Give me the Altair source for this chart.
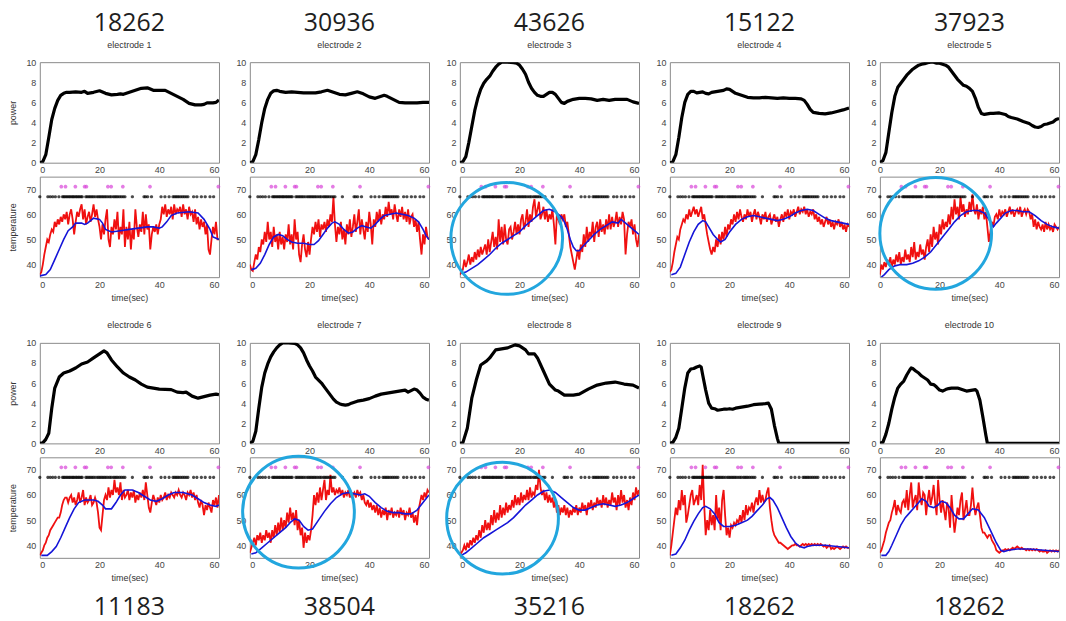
import altair as alt
import pandas as pd

# ---------------------------------------------------------------------------
# Values
# ---------------------------------------------------------------------------
TOP_COUNTS = ["18262", "30936", "43626", "15122", "37923"]
BOTTOM_COUNTS = ["11183", "38504", "35216", "18262", "18262"]

# Delivered power, (time s, power)
power_1 = [(0, 0), (1, 0.1), (2, 0.8), (3, 2.5), (4, 4.3), (5, 5.4), (6, 6.2), (7, 6.7), (8, 6.9), (9, 7.0),
           (10, 7.0), (12, 7.05), (14, 7.0), (15, 7.1), (16, 6.9), (18, 7.0), (20, 7.15), (22, 6.9), (24, 6.75),
           (26, 6.8), (27, 6.85), (28, 6.8), (30, 7.0), (32, 7.2), (34, 7.4), (36, 7.45), (38, 7.2), (40, 7.2),
           (42, 7.2), (44, 6.9), (46, 6.6), (48, 6.3), (50, 5.9), (52, 5.75), (54, 5.75), (55, 5.8), (56, 5.95),
           (58, 5.95), (59, 6.0), (60, 6.25)]
power_2 = [(0, 0), (1, 0.1), (2, 0.8), (3, 2.3), (4, 4.0), (5, 5.4), (6, 6.3), (7, 6.9), (8, 7.15), (9, 7.2),
           (10, 7.1), (12, 7.0), (14, 7.05), (16, 7.0), (18, 6.95), (20, 6.95), (22, 6.95), (24, 7.05), (26, 7.2),
           (28, 7.0), (30, 6.8), (32, 6.75), (34, 6.9), (36, 7.05), (38, 6.85), (40, 6.55), (42, 6.4), (44, 6.6),
           (45, 6.7), (46, 6.6), (48, 6.3), (50, 6.0), (52, 5.95), (56, 5.95), (58, 6.0), (60, 6.0)]
power_3 = [(0, 0), (1, 0.1), (2, 0.6), (3, 2.0), (4, 3.6), (5, 5.2), (6, 6.4), (7, 7.3), (8, 7.9), (9, 8.3),
           (10, 8.6), (11, 9.1), (12, 9.5), (13, 9.8), (14, 10.0), (16, 10.0), (18, 9.95), (19, 9.9), (20, 9.7),
           (21, 9.3), (22, 8.8), (23, 8.0), (24, 7.4), (25, 7.0), (26, 6.7), (27, 6.6), (28, 6.6), (29, 6.8),
           (30, 7.0), (31, 7.0), (32, 6.8), (33, 6.4), (34, 6.0), (35, 5.9), (36, 6.1), (38, 6.3), (40, 6.4),
           (42, 6.4), (44, 6.35), (46, 6.2), (48, 6.3), (50, 6.2), (52, 6.3), (54, 6.3), (56, 6.3), (58, 6.05),
           (60, 5.9)]
power_4 = [(0, 0), (1, 0.1), (2, 0.8), (3, 2.5), (4, 4.5), (5, 6.0), (6, 6.8), (7, 7.1), (8, 7.1), (9, 6.95),
           (10, 7.0), (11, 7.05), (12, 6.9), (13, 6.85), (14, 7.0), (16, 7.1), (18, 7.2), (19, 7.35), (20, 7.3),
           (21, 7.1), (22, 6.9), (24, 6.7), (26, 6.5), (28, 6.45), (30, 6.45), (32, 6.5), (34, 6.45), (36, 6.4),
           (38, 6.45), (40, 6.4), (42, 6.4), (44, 6.35), (45, 6.2), (46, 5.8), (47, 5.3), (48, 5.0), (50, 4.9),
           (52, 4.85), (54, 4.95), (56, 5.1), (58, 5.25), (60, 5.45)]
power_5 = [(0, 0), (1, 0.2), (2, 1.0), (3, 3.0), (4, 5.0), (5, 6.6), (6, 7.5), (7, 7.9), (8, 8.3), (9, 8.7),
           (10, 9.0), (11, 9.3), (12, 9.5), (13, 9.7), (14, 9.8), (15, 9.85), (16, 9.95), (17, 10.0), (18, 10.0),
           (19, 9.9), (20, 9.9), (21, 9.8), (22, 9.7), (23, 9.5), (24, 9.1), (25, 8.7), (26, 8.3), (27, 8.0),
           (28, 7.7), (29, 7.6), (30, 7.4), (31, 7.1), (32, 6.4), (33, 5.5), (34, 4.9), (35, 4.8), (36, 4.85),
           (37, 4.9), (38, 4.9), (40, 4.95), (42, 4.8), (43, 4.6), (44, 4.5), (46, 4.35), (48, 4.1), (50, 3.9),
           (51, 3.7), (52, 3.55), (53, 3.5), (54, 3.6), (55, 3.8), (56, 3.85), (58, 4.05), (59, 4.3), (60, 4.4)]
power_6 = [(0, 0), (1, 0.05), (2, 0.4), (3, 1.0), (4, 3.5), (5, 5.5), (6.5, 6.6), (8, 7.0), (10, 7.2), (12, 7.5),
           (14, 7.9), (16, 8.1), (18, 8.5), (20, 8.9), (21.5, 9.2), (22.5, 9.0), (24, 8.3), (26, 7.6), (28, 7.0),
           (30, 6.6), (32, 6.3), (34, 5.9), (36, 5.6), (38, 5.5), (40, 5.4), (44, 5.35), (46, 5.1), (48, 5.05),
           (49, 5.1), (51, 4.7), (53, 4.5), (55, 4.65), (57, 4.8), (59, 4.9), (60, 4.85)]
power_7 = [(0, 0), (1, 0.2), (2, 1.2), (3, 3.5), (4, 5.6), (5, 7.0), (6, 7.9), (7, 8.6), (8, 9.1), (9, 9.5),
           (10, 9.8), (11, 10.0), (13, 10.0), (15, 9.95), (16, 9.8), (17, 9.5), (18, 9.0), (19, 8.3), (20, 7.7),
           (21, 7.2), (22, 6.6), (23, 6.3), (24, 6.0), (25, 5.6), (26, 5.2), (27, 4.8), (28, 4.4), (29, 4.1),
           (30, 3.95), (31, 3.85), (32, 3.8), (33, 3.85), (34, 4.0), (36, 4.2), (38, 4.3), (40, 4.45), (42, 4.7),
           (44, 4.9), (46, 5.0), (48, 5.1), (50, 5.2), (52, 5.3), (53, 5.1), (54, 5.25), (55, 5.4), (56, 5.3),
           (57, 5.0), (58, 4.6), (59, 4.4), (60, 4.3)]
power_8 = [(0, 0), (1, 0.05), (2.5, 1.5), (4, 4.5), (5.5, 6.3), (7, 7.8), (9, 8.2), (10, 8.5), (12, 9.3),
           (14, 9.4), (16, 9.5), (18.5, 9.8), (20, 9.7), (22, 9.3), (23, 8.9), (25, 8.9), (26, 8.5), (28, 7.2),
           (30, 5.9), (32, 5.3), (33, 5.2), (35, 4.8), (38, 4.8), (40, 4.9), (43, 5.4), (46, 5.8), (49, 6.0),
           (52, 6.1), (55, 5.9), (58, 5.8), (60, 5.5)]
power_9 = [(0, 0), (1, 0.1), (2, 0.6), (3, 1.5), (4, 3.5), (5, 5.5), (6, 7.0), (7, 7.4), (8, 7.45), (9, 7.6),
           (10, 7.7), (10.5, 7.6), (11, 6.8), (12, 5.3), (13, 4.0), (14, 3.5), (15, 3.45), (16, 3.3), (17, 3.35),
           (18, 3.4), (19, 3.4), (20, 3.45), (21, 3.4), (22, 3.5), (24, 3.6), (26, 3.7), (28, 3.85), (30, 3.9),
           (32, 3.95), (33, 4.0), (34, 3.4), (35, 1.8), (36, 0.5), (36.5, 0), (60, 0)]
power_10 = [(0, 0), (1, 0.1), (2, 0.9), (3, 2.0), (4, 3.4), (5, 4.6), (6, 5.5), (7, 5.9), (8, 6.2), (9, 6.8),
            (10, 7.3), (10.5, 7.5), (11, 7.45), (12, 7.2), (13, 7.0), (14, 6.7), (15, 6.5), (16, 6.3), (17, 5.9),
            (18, 5.85), (19, 5.6), (20, 5.3), (21, 5.2), (22, 5.35), (23, 5.45), (24, 5.5), (26, 5.5), (27, 5.4),
            (28, 5.3), (29, 5.2), (30, 5.25), (31, 5.3), (32, 5.35), (32.5, 5.2), (33.5, 4.3), (34.5, 2.6),
            (35.5, 0.8), (36, 0), (60, 0)]

# Smoothed temperature, (time s, temperature)
smooth_1 = [(0, 35.5), (2, 36), (3.5, 38), (5, 42), (6.5, 46), (8, 50), (9.5, 53.5), (11, 55), (12, 56.5),
            (14, 56.5), (15, 56), (16, 56.5), (17, 57.5), (18, 58.5), (20, 58), (21, 56.5), (22, 54), (24, 53),
            (27, 53.5), (30, 54), (33, 54.5), (36, 55), (38, 55), (40, 54.5), (41, 55), (42.5, 57), (44, 59.5),
            (46, 60.5), (50, 61), (53, 60.5), (55, 58), (57, 54), (58, 51), (60, 50)]
smooth_2 = [(0.5, 38), (2, 38.5), (3.5, 40.5), (5, 44), (6.5, 48), (8, 51), (9.5, 52), (11, 51.5), (12.5, 50),
            (14, 49), (16, 48.5), (18, 48.5), (20, 48), (21.5, 48), (23, 49.5), (24.5, 52), (26, 54.5),
            (27.5, 56.5), (28.5, 57), (30, 56), (31.5, 54), (33, 52.5), (34.5, 53), (36, 54.5), (37.5, 55.5),
            (39, 55), (40.5, 54.5), (42, 56), (43.5, 58), (45, 59.5), (47, 60), (49, 60.5), (51, 60), (53, 59.5),
            (55, 58.5), (56.5, 57), (58, 54), (59, 51.5), (60, 50)]
smooth_3 = [(0.5, 36.5), (2, 37), (4, 38.5), (6, 40), (8, 42), (10, 44), (12, 46.5), (14, 48.5), (16, 50),
            (18, 51.5), (20, 53), (22, 55.5), (24, 57.5), (26, 59.5), (28, 61.5), (30, 62), (32, 61), (34, 59),
            (35, 57), (36, 54), (37, 50), (38, 47), (39, 45.5), (40, 45.5), (41, 47), (43, 49.5), (45, 52),
            (47, 54), (49, 55.5), (51, 57), (53, 56.5), (54, 58), (55, 57), (57, 55), (59, 53), (60, 52)]
smooth_4 = [(0.5, 36), (2, 36.5), (3.5, 39), (5, 44), (6.5, 49), (8, 53), (9.5, 56), (11, 57.5), (12, 57),
            (13, 55), (14.5, 52), (16, 50), (17, 49), (18.5, 50), (20, 53), (22, 56), (24, 58), (26, 59),
            (28, 59.5), (30, 59), (32, 58.5), (34, 58), (36, 57.5), (38, 58), (40, 59), (42, 60.5), (44, 61.5),
            (46, 62), (48, 61.5), (50, 60), (52, 58.5), (54, 57.5), (56, 57), (58, 56.5), (60, 56)]
smooth_5 = [(0.5, 35), (1.5, 36), (3, 38), (5, 39.5), (7, 40), (9, 40), (11, 40.5), (13, 41.5), (15, 43),
            (17, 45), (19, 48), (21, 51), (23, 54), (25, 57), (27, 59.5), (29, 61), (31, 61.5), (33, 61.5),
            (35, 60.5), (36.5, 58), (38, 55), (39, 56.5), (40.5, 58.5), (42, 60.5), (44, 61.5), (46, 61.5),
            (48, 61), (50, 61), (52, 59.5), (54, 57.5), (56, 56), (58, 55), (60, 54.5)]
smooth_6 = [(0.5, 36), (2.5, 36), (4, 37.5), (5.5, 39.5), (7, 43), (8.5, 47), (10, 51), (11.5, 54.5), (13, 57),
            (15, 58), (18, 58), (19.5, 57.5), (21, 56), (22, 54.5), (24, 54.5), (25.5, 57), (27, 60), (28.5, 62),
            (31, 62), (33, 61), (35, 59.5), (37, 58), (39, 57.5), (41, 58.5), (43, 60), (45, 61), (48, 61),
            (51, 60), (53, 58.5), (55, 57), (57, 56), (59, 55.5), (60, 56)]
smooth_7 = [(0.5, 36.5), (2, 37), (4, 39), (6, 41), (8, 43), (10, 45), (12, 47), (13.5, 49), (15, 50.5),
            (16.5, 50), (18, 47.5), (19.5, 46), (21, 46.5), (23, 50), (25, 53.5), (27, 56.5), (29, 59),
            (31, 60.5), (33, 61), (35, 60.5), (37, 60), (38.5, 60.5), (40, 59.5), (42, 57), (44, 55), (46, 53.5),
            (48, 53), (50, 53), (52, 52.5), (54, 52.5), (56, 54), (58, 57), (60, 60)]
smooth_8 = [(0.5, 36), (2, 37), (4, 39), (6, 41), (8, 43), (10, 44.5), (12, 46), (14, 47.5), (16, 49), (18, 51),
            (20, 53.5), (22, 56), (24, 58), (26, 60), (28, 61.5), (30, 62), (32, 61), (34, 59), (36, 57), (38, 55),
            (40, 54), (42, 54), (44, 55), (46, 56), (48, 56.5), (50, 56), (52, 55.5), (54, 56), (56, 57),
            (58, 58.5), (60, 60)]
smooth_9 = [(0.5, 36), (2, 36.5), (3.5, 39), (5, 42), (6.5, 46), (8, 49.5), (9.5, 52.5), (11, 55), (12, 55.5),
            (13.5, 54.5), (15, 52.5), (16.5, 49), (18, 47.5), (20, 47.5), (22, 48), (24, 49), (26, 50),
            (27.5, 51.5), (29, 53.5), (31, 56), (32.5, 58.5), (33.5, 59), (34.5, 58), (36, 55), (37.5, 51),
            (39, 47), (40.5, 43.5), (42, 41), (43.5, 39.5), (45, 39), (46, 39.5), (48, 40), (52, 40), (56, 39.5),
            (60, 39)]
smooth_10 = [(0.5, 36), (2, 36), (3, 37.5), (4, 40), (5.5, 44), (7, 48), (8.5, 51), (10, 53), (11.5, 55),
             (13, 57), (14, 58.5), (15.5, 57.5), (16.5, 55.5), (18, 55), (19.5, 56), (20.5, 57.5), (22, 57),
             (23.5, 55), (25, 52), (26.5, 50.5), (28, 50.5), (29.5, 52.5), (31, 54.5), (33, 54), (35, 51),
             (37, 46), (39, 41), (40.5, 38), (41.5, 37.5), (43, 38), (46, 38.5), (50, 38.5), (55, 38), (60, 37.5)]

# Raw temperature, one reading every SAMPLE_STEP seconds from t = 0
SAMPLE_STEP = 0.5
temp_1 = [36, 37, 40, 44, 47, 50, 49, 52, 54, 53,
          57, 55, 58, 56, 59, 57, 60, 58, 61, 56,
          60, 62, 58, 52, 57, 61, 59, 62, 64, 58,
          62, 56, 59, 61, 57, 60, 64, 59, 62, 58,
          55, 50, 56, 52, 58, 62, 50, 47, 55, 52,
          58, 54, 61, 50, 55, 52, 62, 47, 55, 50,
          57, 46, 54, 50, 62, 55, 51, 56, 53, 61,
          52, 60, 54, 56, 46, 52, 55, 53, 56, 52,
          56, 58, 63, 60, 64, 59, 62, 60, 63, 58,
          64, 60, 62, 61, 63, 59, 64, 60, 62, 58,
          63, 60, 61, 57, 62, 56, 59, 54, 58, 55,
          57, 52, 56, 46, 44, 50, 55, 52, 57, 50,
          50]
temp_2 = [40, 38, 37.5, 41, 44, 42, 47, 45, 50, 48,
          53, 49, 57, 50, 53, 47, 55, 49, 52, 46,
          53, 48, 51, 46, 52, 49, 56, 48, 52, 46,
          58, 50, 53, 44, 41, 48, 52, 46, 43, 49,
          44, 50, 55, 52, 57, 53, 58, 51, 56, 54,
          57, 53, 58, 55, 60, 57, 67, 56, 49, 55,
          52, 57, 50, 54, 48, 56, 52, 58, 51, 55,
          60, 53, 57, 62, 52, 58, 54, 50, 57, 53,
          61, 56, 48, 58, 55, 61, 57, 62, 56, 60,
          58, 63, 59, 65, 60, 62, 58, 64, 60, 57,
          62, 59, 63, 58, 61, 57, 62, 56, 59, 60,
          55, 58, 53, 57, 50, 44, 52, 48, 55, 51,
          50]
temp_3 = [36, 37, 38, 42, 39, 41, 44, 40, 43, 41,
          45, 42, 46, 43, 47, 44, 46, 48, 44, 50,
          45, 49, 53, 47, 51, 46, 58, 49, 55, 48,
          56, 50, 48, 54, 55, 50, 53, 57, 52, 56,
          52, 58, 60, 54, 57, 62, 55, 60, 57, 63,
          66, 59, 62, 65, 58, 60, 63, 58, 62, 57,
          60, 58, 62, 56, 48, 60, 58, 56, 60, 58,
          60, 55, 57, 52, 47, 44, 41, 38, 42, 46,
          42, 48, 45, 52, 47, 55, 49, 53, 51, 57,
          49, 55, 57, 51, 58, 53, 56, 52, 58, 54,
          60, 54, 59, 55, 57, 61, 55, 59, 56, 61,
          58, 44, 52, 57, 55, 58, 52, 56, 50, 47,
          52]
temp_4 = [37, 38, 41, 45, 48, 51, 50, 54, 56, 58,
          57, 60, 58, 62, 59, 61, 63, 60, 62, 59,
          61, 63, 58, 60, 56, 52, 49, 46, 44, 47,
          45, 50, 47, 52, 48, 53, 50, 55, 51, 56,
          54, 58, 56, 60, 57, 61, 58, 62, 59, 57,
          60, 58, 62, 59, 61, 57, 60, 62, 58, 61,
          59, 56, 60, 58, 61, 57, 59, 60, 56, 58,
          60, 57, 59, 55, 58, 60, 57, 61, 59, 62,
          58, 61, 60, 62, 59, 61, 63, 60, 62, 61,
          63, 60, 62, 59, 61, 60, 62, 58, 60, 57,
          59, 56, 58, 55, 57, 59, 56, 58, 55, 57,
          54, 57, 56, 58, 55, 57, 54, 56, 53, 56,
          55]
temp_5 = [36, 40, 38, 41, 39, 42, 40, 43, 39, 42,
          40, 44, 41, 45, 40, 43, 41, 46, 42, 44,
          41, 47, 43, 49, 42, 45, 43, 48, 44, 46,
          42, 47, 50, 45, 52, 47, 55, 50, 53, 48,
          56, 52, 58, 54, 57, 55, 60, 56, 63, 58,
          66, 60, 63, 58, 67, 61, 64, 59, 62, 60,
          65, 61, 68, 62, 60, 64, 58, 62, 60, 63,
          58, 61, 55, 49, 53, 57, 55, 59, 60, 58,
          62, 59, 61, 60, 62, 59, 61, 63, 60, 62,
          59, 61, 62, 60, 63, 59, 61, 62, 60, 62,
          61, 58, 60, 55, 58, 54, 57, 55, 54, 56,
          53, 57, 54, 56, 54, 55, 53, 56, 55, 54,
          55]
temp_6 = [36, 37, 38, 40, 41, 43, 44, 46, 47, 48,
          49, 50, 51, 51, 53, 56, 58, 59, 59, 57,
          59, 60, 57, 59, 56, 58, 61, 57, 59, 62,
          56, 59, 57, 58, 60, 56, 57, 59, 57, 53,
          47, 46, 52, 58, 60, 58, 63, 59, 62, 60,
          66, 61, 63, 60, 65, 58, 62, 59, 60, 62,
          58, 61, 59, 62, 57, 60, 58, 61, 59, 62,
          58, 65, 60, 55, 53, 57, 60, 58, 56, 59,
          57, 60, 58, 59, 61, 58, 60, 59, 61, 60,
          59, 61, 60, 62, 60, 59, 61, 60, 58, 61,
          60, 62, 59, 61, 58, 60, 57, 55, 58, 56,
          52, 56, 54, 57, 55, 53, 58, 56, 59, 55,
          60]
temp_7 = [37, 39, 41, 43, 40, 44, 42, 45, 41, 44,
          42, 46, 43, 45, 41, 46, 43, 48, 44, 49,
          45, 51, 46, 50, 47, 53, 49, 55, 50, 53,
          48, 54, 46, 50, 44, 47, 39, 45, 41, 44,
          42, 46, 52, 60, 56, 61, 57, 63, 58, 62,
          66, 58, 62, 60, 68, 61, 63, 60, 62, 61,
          63, 60, 62, 59, 61, 60, 62, 59, 61, 60,
          61, 59, 62, 60, 61, 58, 60, 57, 56, 58,
          55, 57, 54, 56, 53, 56, 52, 55, 51, 54,
          52, 55, 50, 54, 52, 55, 51, 53, 52, 54,
          51, 55, 52, 54, 50, 53, 52, 55, 51, 53,
          49, 52, 48, 54, 57, 60, 58, 61, 59, 62,
          61]
temp_8 = [36, 37, 38, 40, 38, 41, 39, 42, 40, 43,
          41, 44, 42, 46, 43, 48, 45, 50, 46, 49,
          46, 52, 48, 54, 49, 53, 50, 56, 51, 55,
          52, 57, 53, 56, 54, 58, 55, 60, 56, 59,
          56, 61, 57, 60, 58, 62, 58, 63, 59, 61,
          60, 64, 62, 70, 63, 60, 62, 58, 61, 57,
          60, 57, 59, 55, 58, 53, 56, 52, 55, 53,
          56, 52, 55, 51, 54, 52, 55, 53, 56, 52,
          55, 53, 57, 54, 56, 52, 57, 55, 58, 54,
          57, 55, 59, 56, 58, 55, 60, 56, 59, 55,
          58, 56, 61, 57, 59, 54, 60, 56, 62, 57,
          60, 55, 58, 54, 59, 56, 61, 58, 63, 60,
          62]
temp_9 = [36, 40, 45, 50, 55, 52, 58, 54, 62, 56,
          60, 49, 52, 56, 60, 62, 56, 58, 60, 56,
          64, 58, 72, 56, 44, 50, 46, 54, 48, 52,
          46, 60, 50, 55, 46, 58, 62, 52, 44, 47,
          43, 48, 47, 49, 48, 50, 49, 52, 49, 54,
          50, 56, 52, 55, 54, 57, 53, 57, 59, 56,
          62, 57, 60, 57, 58, 61, 63, 55, 50, 46,
          44, 43, 42, 41, 41, 40.5, 40, 39.5, 39, 38.5,
          39, 39.5, 40, 40, 40.5, 40, 40, 39.5, 40, 40.5,
          40, 40.5, 40, 40.5, 40, 40.5, 40, 40.5, 40, 40.5,
          40, 40.5, 40, 39.5, 40, 39, 39.5, 40, 38.5, 39,
          38.5, 39, 39.5, 39, 38.5, 39, 39.5, 39, 39.5, 39,
          39]
temp_10 = [37, 38, 40, 42, 45, 47, 49, 50, 53, 55,
           58, 52, 56, 54, 53, 57, 58, 55, 62, 54,
           60, 65, 55, 58, 60, 54, 65, 59, 56, 61,
           60, 52, 58, 62, 56, 59, 64, 57, 52, 66,
           58, 53, 58, 54, 50, 57, 55, 47, 60, 52,
           45, 50, 55, 52, 58, 61, 50, 54, 58, 52,
           52, 56, 63, 56, 52, 55, 57, 52, 47, 45,
           45, 44, 43, 44, 44, 42, 41, 40, 38, 37.5,
           37, 37.5, 38, 38, 38.5, 38, 38.5, 38, 38.5, 39,
           38.5, 39, 39.5, 39, 38.5, 39, 38.5, 38.5, 38, 38.5,
           38, 38.5, 38, 38.5, 38, 38.5, 38, 37.5, 38, 37.5,
           37.5, 38, 37, 37.5, 38, 37.5, 38, 37.5, 38, 37.5,
           38]

# Event markers shared by every electrode
BLACK_EVENTS = [0.0, 2.7, 3.5, 4.3, 5.2, 6.4, 7.6, 8.0, 8.4, 8.9, 9.3, 9.8, 10.2, 10.7, 11.1, 11.5, 12.0, 12.4,
                12.9, 13.3, 13.8, 14.2, 15.4, 15.9, 16.4, 16.9, 17.4, 17.9, 18.5, 19.2, 19.7, 20.2, 20.7, 21.2,
                21.7, 22.2, 22.8, 23.4, 23.9, 24.6, 25.1, 25.6, 26.1, 26.7, 27.3, 27.9, 28.5, 31.0, 34.9, 35.4,
                36.1, 37.4, 40.6, 41.9, 43.3, 44.6, 45.1, 45.6, 46.1, 46.6, 47.2, 47.8, 48.4, 49.0, 49.6, 51.5,
                52.6, 54.1, 55.4, 57.0, 58.2]
MAGENTA_EVENTS = [7.2, 8.6, 11.9, 15.0, 15.6, 22.8, 23.9, 27.8, 36.9, 59.8]
BLACK_LEVEL = 67
MAGENTA_LEVEL = 71

# Highlighted regions: electrode, centre time, centre temperature
HIGHLIGHTS = [(3, 15.7, 50.4), (5, 18.7, 52.4), (7, 16.3, 53.2), (8, 14.3, 50.8)]

POWER = [power_1, power_2, power_3, power_4, power_5, power_6, power_7, power_8, power_9, power_10]
SMOOTH = [smooth_1, smooth_2, smooth_3, smooth_4, smooth_5, smooth_6, smooth_7, smooth_8, smooth_9, smooth_10]
RAW = [temp_1, temp_2, temp_3, temp_4, temp_5, temp_6, temp_7, temp_8, temp_9, temp_10]

# ---------------------------------------------------------------------------
# Drawing
# ---------------------------------------------------------------------------
W, H = 180, 101
SMALL_FONT = "Liberation Sans"
BIG_FONT = "Open Sans"
ASTERISK = "M-1,0L1,0M0,-1L0,1M-0.7,-0.7L0.7,0.7M-0.7,0.7L0.7,-0.7"

X_SCALE = alt.Scale(domain=[0, 60], nice=False, zero=False)
P_SCALE = alt.Scale(domain=[0, 10], nice=False)
T_SCALE = alt.Scale(domain=[35, 75], nice=False, zero=False)


def x_enc(col, title=None):
    kw = dict(values=[0, 20, 40, 60], format="d")
    if col == 4:
        kw["labelAlign"] = {"condition": {"test": "datum.value == 60", "value": "right"}, "value": "center"}
    kw["title"] = title
    return alt.X("t:Q", scale=X_SCALE, axis=alt.Axis(**kw))


def power_panel(k, col, title):
    df = pd.DataFrame(POWER[k], columns=["t", "v"])
    y = alt.Y("v:Q", scale=P_SCALE,
              axis=alt.Axis(values=[0, 2, 4, 6, 8, 10], title="power" if col == 0 else None))
    return alt.Chart(df).mark_line(color="black", strokeWidth=3.2, clip=True,
                                   strokeJoin="round").encode(
        x=x_enc(col), y=y
    ).properties(width=W, height=H, title=title)


def temp_panel(k, col, title=None):
    raw = pd.DataFrame({"t": [i * SAMPLE_STEP for i in range(len(RAW[k]))], "v": RAW[k]})
    smooth = pd.DataFrame(SMOOTH[k], columns=["t", "v"])
    black = pd.DataFrame({"t": BLACK_EVENTS, "v": [BLACK_LEVEL] * len(BLACK_EVENTS)})
    magenta = pd.DataFrame({"t": MAGENTA_EVENTS, "v": [MAGENTA_LEVEL] * len(MAGENTA_EVENTS)})
    x = x_enc(col, "time(sec)")
    y = alt.Y("v:Q", scale=T_SCALE,
              axis=alt.Axis(values=[40, 50, 60, 70], title="temperature" if col == 0 else None))
    layers = [
        alt.Chart(raw).mark_line(color="#f01010", strokeWidth=1.8, clip=True).encode(x=x, y=y),
        alt.Chart(smooth).mark_line(color="#1515d8", strokeWidth=1.6, clip=True).encode(x=x, y=y),
        alt.Chart(black).mark_point(shape=ASTERISK, size=10, color="black", strokeWidth=1.3,
                                    filled=False).encode(x=x, y=y),
        alt.Chart(magenta).mark_point(shape=ASTERISK, size=14, color="#d946d9", strokeWidth=1.2,
                                      filled=False).encode(x=x, y=y),
    ]
    spots = [(t, v) for (e, t, v) in HIGHLIGHTS if e == k + 1]
    if spots:
        ring = pd.DataFrame(spots, columns=["t", "v"])
        layers.append(alt.Chart(ring).mark_point(shape="circle", size=12600, filled=False,
                                                 color="#22a6de", strokeWidth=3,
                                                 opacity=1).encode(x=x, y=y))
    chart = alt.layer(*layers).properties(width=W, height=H)
    if title is not None:
        chart = chart.properties(title=title)
    return chart


def spacer():
    return alt.Chart(pd.DataFrame({"t": [0]})).mark_point(opacity=0).encode(
        x=alt.X("t:Q", axis=None), y=alt.Y("t:Q", axis=None)
    ).properties(width=W, height=38, view=alt.ViewBackground(stroke="transparent"))


cells = []
# first row of electrodes: power with counts above, then temperature
for c in range(5):
    cells.append(power_panel(c, c, alt.TitleParams(
        text=TOP_COUNTS[c], subtitle=f"electrode {c + 1}", font=BIG_FONT, fontSize=25,
        fontWeight="normal", color="#1e1e1e", subtitleFont=SMALL_FONT, subtitleFontSize=9,
        subtitleColor="#333333", subtitlePadding=5, offset=8, anchor="middle")))
for c in range(5):
    cells.append(temp_panel(c, c))
for c in range(5):
    cells.append(spacer())
# second row of electrodes
for c in range(5):
    cells.append(power_panel(c + 5, c, alt.TitleParams(
        text=f"electrode {c + 6}", font=SMALL_FONT, fontSize=9, fontWeight="normal",
        color="#333333", offset=9, anchor="middle")))
for c in range(5):
    cells.append(temp_panel(c + 5, c, alt.TitleParams(
        text=BOTTOM_COUNTS[c], orient="bottom", font=BIG_FONT, fontSize=25, fontWeight="normal",
        color="#1e1e1e", offset=12, anchor="middle")))

chart = alt.concat(*cells, columns=5, spacing={"row": 14, "column": 31}, bounds="flush").properties(
    padding={"left": 8, "top": 9, "right": 2, "bottom": 0}, background="white"
).configure_view(
    stroke="#8a8a8a", strokeWidth=1
).configure_axis(
    domain=False, grid=False, ticks=False, labelFont=SMALL_FONT, labelFontSize=9, labelColor="#444444",
    labelPadding=3, titleFont=SMALL_FONT, titleFontSize=9, titleFontWeight="normal", titleColor="#333333",
    titlePadding=4
).configure_axisY(
    labelPadding=4, titlePadding=8
)

chart.save("out.html", embed_options={"renderer": "svg", "actions": False})
